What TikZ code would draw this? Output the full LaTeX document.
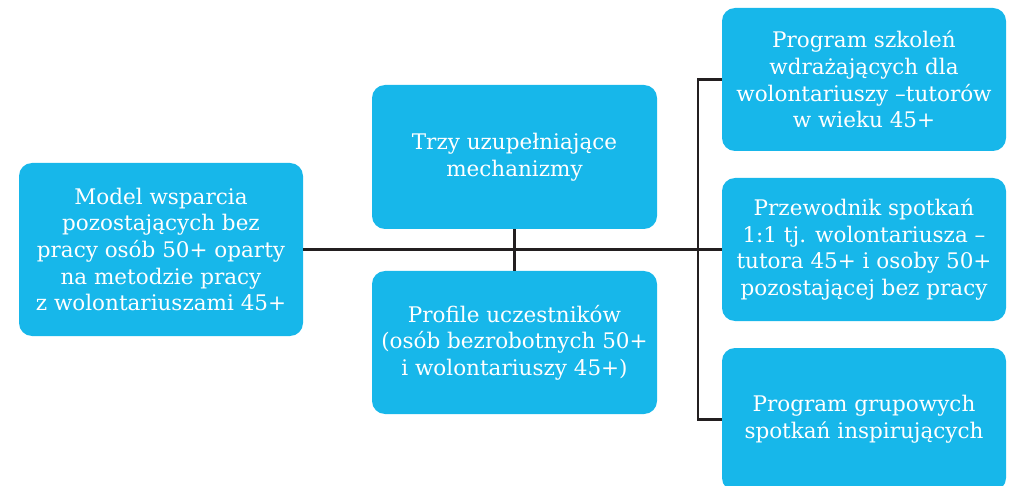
\documentclass[tikz,border=0pt]{standalone}
\usepackage{fontspec}
\setmainfont{DejaVu Serif}
\definecolor{boxblue}{RGB}{23,183,234}
\definecolor{linedark}{RGB}{35,31,32}
\tikzset{
  x=1pt, y=-1pt,
  blockbox/.style={rectangle, rounded corners=13pt, fill=boxblue, draw=none,
    text=white, align=center, inner sep=0pt,
    font=\fontsize{21.5}{26.7}\selectfont},
  link/.style={draw=linedark, line width=2.4pt}
}
\begin{document}
\begin{tikzpicture}
\useasboundingbox (0,0) rectangle (1009,486);
\coordinate (bx) at (698,249.5);
\node[blockbox, minimum width=284pt, minimum height=173pt] (model) at (161,249.5)
  {Model wsparcia\\pozostających bez\\pracy osób 50+ oparty\\na metodzie pracy\\z wolontariuszami 45+};
\node[blockbox, minimum width=285pt, minimum height=144pt] (mech) at (514.5,157)
  {Trzy uzupełniające\\mechanizmy};
\node[blockbox, minimum width=285pt, minimum height=143pt] (prof) at (514.5,342.5)
  {Profile uczestników\\(osób bezrobotnych 50+\\i wolontariuszy 45+)};
\node[blockbox, minimum width=284pt, minimum height=143pt] (szk) at (864,79.5)
  {Program szkoleń\\wdrażających dla\\wolontariuszy –tutorów\\w wieku 45+};
\node[blockbox, minimum width=284pt, minimum height=143pt] (przew) at (864,249.5)
  {Przewodnik spotkań\\1:1 tj. wolontariusza –\\tutora 45+ i osoby 50+\\pozostającej bez pracy};
\node[blockbox, minimum width=284pt, minimum height=143pt] (grup) at (864,419.5)
  {Program grupowych\\spotkań inspirujących};
\draw[link] (model.east) -- (przew.west);
\draw[link] (mech.south) -- (prof.north);
\draw[link] (szk.west) -| (bx) |- (grup.west);
\end{tikzpicture}
\end{document}
